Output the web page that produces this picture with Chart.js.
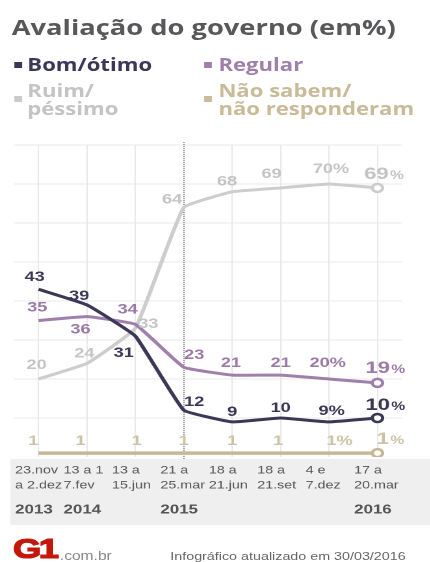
<!DOCTYPE html>
<html>
<head>
<meta charset="utf-8">
<script src="https://cdn.jsdelivr.net/npm/chart.js@4"></script>
<style>
  body { margin: 0; background: #fff; overflow: hidden; }
  #wrap {
    position: absolute; left: 0; top: 0; width: 331px; height: 562px;
    transform: scaleX(1.3); transform-origin: 0 0;
  }
  #chartBox { position: absolute; left: 0; top: 0; width: 331px; height: 562px; }
  .txt { position: absolute; white-space: nowrap; font-family: "Open Sans", sans-serif; font-weight: 700; }
  .title { left: 9px; top: 13px; font-size: 21px; line-height: 28px; color: #58585a; }
  .leg { font-size: 17px; line-height: 18px; }
  .sq { position: absolute; width: 6px; height: 6px; }
  .foot { position: absolute; white-space: nowrap; font-family: "Liberation Sans", Arial, sans-serif; }
</style>
</head>
<body>
<div id="wrap">
  <div id="chartBox"><canvas id="chart"></canvas></div>

  <div class="txt title">Avaliação do governo (em%)</div>

  <div class="sq" style="left:11px;top:62px;background:#3b3857"></div>
  <div class="txt leg" style="left:21px;top:56px;color:#3b3857">Bom/ótimo</div>
  <div class="sq" style="left:157px;top:62px;background:#a07fab"></div>
  <div class="txt leg" style="left:168px;top:56px;color:#a07fab">Regular</div>

  <div class="sq" style="left:11px;top:96px;background:#cacaca"></div>
  <div class="txt leg" style="left:21px;top:82px;color:#c4c4c4">Ruim/<br>péssimo</div>
  <div class="sq" style="left:157px;top:96px;background:#c9bb98"></div>
  <div class="txt leg" style="left:168px;top:82px;color:#c9bb98">Não sabem/<br>não responderam</div>

  <div class="foot" style="left:10px;top:535px;font-size:28px;font-weight:700;color:#c4170c;letter-spacing:-2px;line-height:28px;-webkit-text-stroke:1.2px #c4170c">G1</div>
  <div class="foot" style="left:46px;top:549px;font-size:12px;line-height:14px;color:#8a8a8a">.com.br</div>
  <div class="foot" style="left:131px;top:550px;font-size:11px;line-height:13px;color:#666">Infográfico atualizado em 30/03/2016</div>
</div>

<script>
// data
const categories = [
  ['23.nov', 'a 2.dez'], ['13 a 1', '7.fev'], ['13 a', '15.jun'], ['21 a', '25.mar'],
  ['18 a', '21.jun'], ['18 a', '21.set'], ['4 e', '7.dez'], ['17 a', '20.mar']
];
const years = ['2013', '2014', '', '2015', '', '', '', '2016'];
const bomOtimo = [43, 39, 31, 12, 9, 10, 9, 10];
const regular = [35, 36, 34, 23, 21, 21, 20, 19];
const ruimPessimo = [20, 24, 33, 64, 68, 69, 70, 69];
const naoSabem = [1, 1, 1, 1, 1, 1, 1, 1];
const yMax = 80;
const yStep = 10;

// label nudges (px, relative to each point)
const bomDx = [-3, -6, -9, 8, 0, 0, 2, 6];
const bomDy = [-12, -9, 17, -8, -10, -10, -11, -14];
const regDx = [-1, -5, -6, 8, -1, 0, -1, 6];
const regDy = [-13, 13, -15, -12, -12, -12, -16, -16];
const ruimDx = [-1.5, -2, 10, -9, -4, -7, 1.5, 5];
const ruimDy = [-14, -10, -4, -8, -10, -14, -15, -15];
const naoDx = [-4, -5, 1, 0, 0, -2, 8, 10];
const naoDy = [-12, -12, -12, -12, -12, -12, -12, -15];

const lastIdx = categories.length - 1;
const endRadius = categories.map((c, i) => i === lastIdx ? 4 : 0);

function series(label, data, color, textColor, dx, dy, width) {
  return {
    label, data,
    borderColor: color,
    borderWidth: width,
    pointRadius: endRadius,
    pointBackgroundColor: '#fff',
    pointBorderColor: color,
    pointBorderWidth: 2.5,
    tension: 0.1,
    borderJoinStyle: 'round',
    labelColor: textColor, labelDx: dx, labelDy: dy
  };
}

// grey band behind the date labels
const band = {
  id: 'band',
  beforeDraw(chart) {
    const ctx = chart.ctx;
    const x2 = chart.scales.x2;
    ctx.save();
    ctx.fillStyle = '#efefef';
    ctx.fillRect(8, chart.chartArea.bottom + 2, chart.width - 8, x2.bottom - chart.chartArea.bottom - 2);
    ctx.restore();
  },
  beforeDatasetsDraw(chart) {
    // dotted marker at 2015
    const ctx = chart.ctx;
    const x = Math.round(chart.scales.x.getPixelForValue(3)) + 0.5;
    ctx.save();
    ctx.strokeStyle = '#8c8c8c';
    ctx.lineWidth = 1;
    ctx.setLineDash([1, 1]);
    ctx.beginPath();
    ctx.moveTo(x, chart.chartArea.top - 3);
    ctx.lineTo(x, chart.chartArea.bottom + 2);
    ctx.stroke();
    ctx.restore();
  }
};

// value labels next to the points
const valueLabels = {
  id: 'valueLabels',
  afterDatasetsDraw(chart) {
    const ctx = chart.ctx;
    chart.data.datasets.forEach((ds, di) => {
      chart.getDatasetMeta(di).data.forEach((pt, i) => {
        const v = String(ds.data[i]);
        const x = pt.x + ds.labelDx[i];
        const y = pt.y + ds.labelDy[i];
        ctx.save();
        ctx.fillStyle = ds.labelColor;
        if (i === lastIdx) {
          ctx.textBaseline = 'alphabetic';
          ctx.textAlign = 'left';
          ctx.font = 'bold 17px "Liberation Sans", Arial, sans-serif';
          const w1 = ctx.measureText(v).width;
          ctx.font = 'bold 12px "Liberation Sans", Arial, sans-serif';
          const w2 = ctx.measureText('%').width;
          const sx = x - (w1 + w2 + 1) / 2;
          ctx.font = 'bold 17px "Liberation Sans", Arial, sans-serif';
          ctx.fillText(v, sx, y + 6);
          ctx.font = 'bold 12px "Liberation Sans", Arial, sans-serif';
          ctx.fillText('%', sx + w1 + 1, y + 6);
        } else {
          ctx.textBaseline = 'middle';
          ctx.textAlign = 'center';
          ctx.font = 'bold 14px "Liberation Sans", Arial, sans-serif';
          ctx.fillText(i === lastIdx - 1 ? v + '%' : v, x, y);
        }
        ctx.restore();
      });
    });
  }
};

const ctx = document.getElementById('chart').getContext('2d');
new Chart(ctx, {
  type: 'line',
  data: {
    labels: categories,
    datasets: [
      series('Bom/ótimo', bomOtimo, '#3b3857', '#3b3857', bomDx, bomDy, 3),
      series('Regular', regular, '#a07fab', '#9c7aa6', regDx, regDy, 3),
      series('Ruim/péssimo', ruimPessimo, '#cdcdcd', '#c4c4c4', ruimDx, ruimDy, 3),
      series('Não sabem/não responderam', naoSabem, '#c6b895', '#cdc2a4', naoDx, naoDy, 3.5)
    ]
  },
  options: {
    responsive: true,
    maintainAspectRatio: false,
    animation: false,
    devicePixelRatio: 2,
    layout: { padding: { left: 11, right: 2.5, top: 145, bottom: 37 } },
    plugins: { legend: { display: false }, tooltip: { enabled: false } },
    scales: {
      x: {
        type: 'category',
        offset: true,
        grid: { color: '#e8e8e8', drawTicks: false },
        border: { display: false },
        ticks: {
          autoSkip: false, maxRotation: 0, align: 'start', labelOffset: -18, padding: 6,
          color: '#555', font: { family: '"Liberation Sans", Arial, sans-serif', size: 11, lineHeight: 1.36 }
        },
        afterFit: (scale) => { scale.height = 40; }
      },
      x2: {
        type: 'category',
        position: 'bottom',
        labels: years,
        offset: true,
        grid: { display: false, drawTicks: false },
        border: { display: false },
        ticks: {
          autoSkip: false, maxRotation: 0, align: 'start', labelOffset: -18, padding: 5,
          color: '#555', font: { family: '"Liberation Sans", Arial, sans-serif', size: 13, weight: 'bold' }
        },
        afterFit: (scale) => { scale.height = 28; }
      },
      y: {
        min: 0, max: yMax,
        display: true,
        border: { display: false },
        grid: {
          drawTicks: false,
          color: (c) => c.tick && c.tick.value === 0 ? 'rgba(0,0,0,0)' : '#e8e8e8'
        },
        ticks: { display: false, stepSize: yStep },
        afterFit: (scale) => { scale.width = 0; }
      }
    }
  },
  plugins: [band, valueLabels]
});
</script>
</body>
</html>
